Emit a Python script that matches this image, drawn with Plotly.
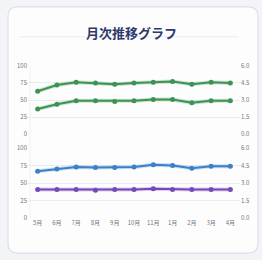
import plotly.graph_objects as go

months = ["5月", "6月", "7月", "8月", "9月", "10月", "11月", "1月", "2月", "3月", "4月"]
green_upper = [63, 72, 76, 75, 73, 75, 76, 77, 73, 76, 75]
green_lower = [37, 44, 49, 49, 48, 49, 51, 51, 46, 49, 49]
blue_vals = [67, 70, 73, 72, 72, 73, 76, 75, 71, 74, 74]
purple_vals = [41, 41, 41, 40, 41, 41, 42, 41, 41, 41, 41]
left_ticks = [0, 25, 50, 75, 100]
right_ticks = [0, 1.5, 3.0, 4.5, 6.0]
title_text = "月次推移グラフ"

W, H = 262, 260
def px(x):
    return x / W
def py(y):
    return 1 - y / H

green = "#3d9452"
blue = "#3b80c8"
purple = "#7449b9"

fig = go.Figure()

def add_line(y, color, axis):
    fig.add_trace(go.Scatter(
        x=months, y=y, mode="lines", xaxis="x", yaxis=axis,
        line=dict(color=color, width=4), opacity=0.25,
        showlegend=False, hoverinfo="skip"))
    fig.add_trace(go.Scatter(
        x=months, y=y, mode="lines+markers", xaxis="x", yaxis=axis,
        line=dict(color=color, width=2),
        marker=dict(color=color, size=5),
        showlegend=False, hoverinfo="skip"))

add_line(green_upper, green, "y")
add_line(green_lower, green, "y")
add_line(blue_vals, blue, "y3")
add_line(purple_vals, purple, "y3")
fig.add_trace(go.Scatter(x=[months[0]], y=[0], yaxis="y2", mode="markers",
                         marker=dict(opacity=0), showlegend=False, hoverinfo="skip"))
fig.add_trace(go.Scatter(x=[months[0]], y=[0], yaxis="y4", mode="markers",
                         marker=dict(opacity=0), showlegend=False, hoverinfo="skip"))

tickfont = dict(size=6, color="#707683", family="Noto Sans CJK JP")
grid = "#eaecf0"
xd = [px(28), px(240)]
top_dom = [py(134), py(63)]
bot_dom = [py(221), py(148)]

fig.update_layout(
    width=W, height=H,
    margin=dict(l=0, r=0, t=0, b=0),
    paper_bgcolor="#f3f4f7",
    plot_bgcolor="rgba(0,0,0,0)",
    xaxis=dict(domain=xd, anchor="y3", type="category", range=[-0.5, len(months) - 0.5],
               tickfont=tickfont, showgrid=False, showline=False, zeroline=False,
               ticks="", ticklen=0),
    yaxis=dict(domain=top_dom, range=[0, 100], tickvals=left_ticks, tickfont=tickfont,
               gridcolor=grid, zeroline=False, showline=False, anchor="x"),
    yaxis2=dict(domain=top_dom, range=[0, 6], tickvals=right_ticks,
                ticktext=[f"{v:.1f}" for v in right_ticks], tickfont=tickfont,
                overlaying="y", side="right", showgrid=False, zeroline=False, anchor="x"),
    yaxis3=dict(domain=bot_dom, range=[0, 100], tickvals=left_ticks, tickfont=tickfont,
                gridcolor=grid, zeroline=False, showline=False, anchor="x"),
    yaxis4=dict(domain=bot_dom, range=[0, 6], tickvals=right_ticks,
                ticktext=[f"{v:.1f}" for v in right_ticks], tickfont=tickfont,
                overlaying="y3", side="right", showgrid=False, zeroline=False, anchor="x"),
    font=dict(family="Noto Sans CJK JP"),
)

x0, y0, x1, y1, r = 8, 2, 258, 257, 10
path = (f"M {x0+r},{y0} L {x1-r},{y0} Q {x1},{y0} {x1},{y0+r} L {x1},{y1-r} "
        f"Q {x1},{y1} {x1-r},{y1} L {x0+r},{y1} Q {x0},{y1} {x0},{y1-r} "
        f"L {x0},{y0+r} Q {x0},{y0} {x0+r},{y0} Z")
def conv(p):
    out = []
    for tok in p.split(" "):
        if "," in tok:
            a, b = tok.split(",")
            out.append(f"{px(float(a)):.5f},{py(float(b)):.5f}")
        else:
            out.append(tok)
    return " ".join(out)
fig.add_shape(type="path", path=conv(path), xref="paper", yref="paper",
              fillcolor="#fdfdfe", line=dict(color="#dde1e8", width=1.2), layer="below")
fig.add_shape(type="line", xref="paper", yref="paper", x0=px(20), x1=px(238),
              y0=py(33), y1=py(33), line=dict(color="#e9ecf0", width=1), layer="below")
fig.add_shape(type="line", xref="paper", yref="paper", x0=px(30), x1=px(30),
              y0=py(221), y1=py(63), line=dict(color="#eff1f4", width=1), layer="below")

fig.add_annotation(text=f"<b>{title_text}</b>", xref="paper", yref="paper",
                   x=px(131), y=py(17), showarrow=False,
                   font=dict(size=13, color="#2d3a6b", family="Noto Sans CJK JP"))

fig.write_html("out.html", config={"displayModeBar": False},
               post_script="document.body.style.margin='0';document.body.style.overflow='hidden';")
